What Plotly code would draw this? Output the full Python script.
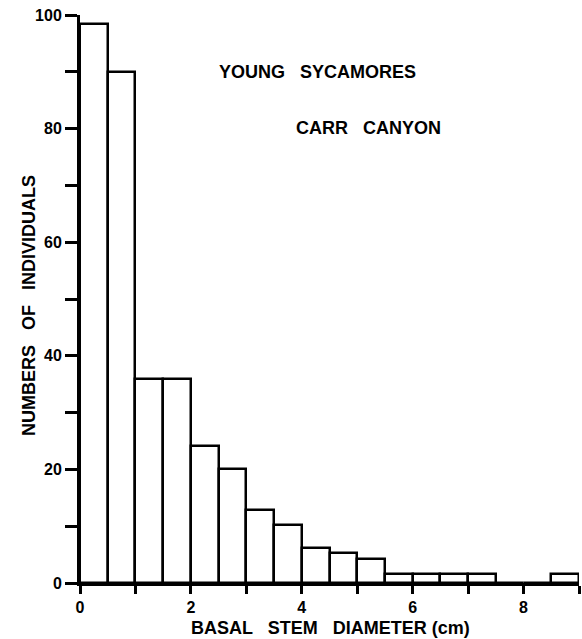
import plotly.graph_objects as go

bin_centers = [0.25, 0.75, 1.25, 1.75, 2.25, 2.75, 3.25, 3.75, 4.25, 4.75,
               5.25, 5.75, 6.25, 6.75, 7.25, 7.75, 8.25, 8.75]
counts = [98.5, 90, 36, 36, 24.2, 20, 12.8, 10.2, 6.2, 5.3,
          4.3, 1.5, 1.5, 1.5, 1.5, 0, 0, 1.5]
bin_width = 0.5
x_ticks = [0, 2, 4, 6, 8]
y_ticks = [0, 20, 40, 60, 80, 100]

FONT = "Liberation Sans, Arial, Helvetica, sans-serif"
W, H = 582, 639
L, R, T, B = 80, 3, 15, 56

fig = go.Figure()
fig.add_trace(go.Bar(
    x=bin_centers, y=counts, width=[bin_width] * len(bin_centers),
    marker=dict(color="white", line=dict(color="black", width=2.5)),
    showlegend=False, hoverinfo="skip",
))

def px(xp, yp):
    return (xp - L) / (W - L - R), (H - yp - B) / (H - T - B)

annots = []
for text, xp, yp, ang, size in [
    ("YOUNG   SYCAMORES", 317, 72, 0, 18),
    ("CARR   CANYON", 368, 128, 0, 18),
    ("BASAL   STEM   DIAMETER (cm)", 330, 628, 0, 18),
    ("NUMBERS   OF   INDIVIDUALS", 29, 306, -90, 18),
]:
    ax, ay = px(xp, yp)
    annots.append(dict(text=text, x=ax, y=ay, xref="paper", yref="paper",
                       xanchor="center", yanchor="middle", textangle=ang,
                       showarrow=False,
                       font=dict(family=FONT, size=size, weight="bold", color="black")))

fig.update_layout(
    width=W, height=H,
    margin=dict(l=L, r=R, t=T, b=B, autoexpand=False),
    paper_bgcolor="white", plot_bgcolor="white",
    font=dict(family=FONT, color="black", size=16, weight="bold"),
    bargap=0,
    xaxis=dict(
        range=[0, 9], tickvals=x_ticks, ticktext=[str(v) for v in x_ticks],
        showgrid=False, zeroline=False, showline=True, linecolor="black", linewidth=3,
        ticks="outside", ticklen=8, tickwidth=2.5, tickcolor="black",
        minor=dict(dtick=1, ticks="outside", ticklen=8, tickwidth=2.5, tickcolor="black"),
        tickfont=dict(family=FONT, size=16, weight="bold"),
        automargin=False,
    ),
    yaxis=dict(
        range=[0, 100], tickvals=y_ticks, ticktext=[str(v) for v in y_ticks],
        showgrid=False, zeroline=False, showline=True, linecolor="black", linewidth=3,
        ticks="outside", ticklen=12, tickwidth=2.5, tickcolor="black",
        minor=dict(dtick=10, ticks="outside", ticklen=12, tickwidth=2.5, tickcolor="black"),
        tickfont=dict(family=FONT, size=16, weight="bold"),
        automargin=False,
    ),
    annotations=annots,
)

fig.write_html("out.html", config={"displayModeBar": False},
               post_script="document.body.style.margin='0';document.body.style.overflow='hidden';")
